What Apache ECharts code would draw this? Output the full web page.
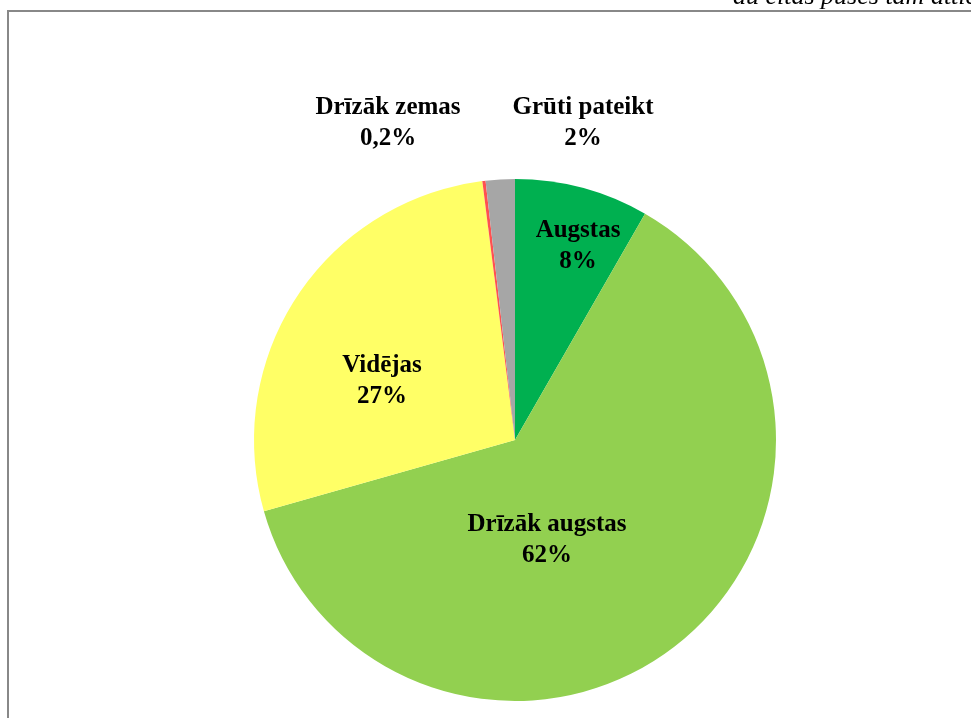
<!DOCTYPE html>
<html>
<head>
<meta charset="utf-8">
<script src="https://cdn.jsdelivr.net/npm/echarts@6/dist/echarts.min.js"></script>
<style>html,body{margin:0;padding:0;background:#fff;}#c{width:971px;height:718px;}</style>
</head>
<body>
<div id="c"></div>
<script>
const categories = ['Augstas', 'Drīzāk augstas', 'Vidējas', 'Drīzāk zemas', 'Grūti pateikt'];
const values = [8.3, 62.3, 27.4, 0.2, 1.8];
const percentLabels = ['8%', '62%', '27%', '0,2%', '2%'];
const colors = ['#00B050', '#92D050', '#FFFF66', '#FF5050', '#A6A6A6'];
const labelX = [578, 547, 382, 388, 583];
const labelY = [246, 540, 381, 123, 123];

const chart = echarts.init(document.getElementById('c'), null, {renderer: 'canvas'});
chart.setOption({
  animation: false,
  backgroundColor: '#fff',
  graphic: [
    {type: 'rect', shape: {x: 8, y: 11, width: 1000, height: 800}, style: {fill: 'none', stroke: '#888', lineWidth: 2}},
    {type: 'text', x: 733, y: 10, style: {text: 'au citas puses tam attiecībās', font: 'italic 26px "Liberation Serif"', fill: '#000', verticalAlign: 'bottom'}}
  ],
  series: [{
    type: 'pie',
    center: [515, 440],
    radius: [0, 261],
    startAngle: 90,
    clockwise: true,
    silent: true,
    data: categories.map((n, i) => ({name: n, value: values[i], itemStyle: {color: colors[i]}})),
    itemStyle: {borderWidth: 0},
    label: {
      show: true,
      position: 'inside',
      formatter: p => p.name + '\n' + percentLabels[p.dataIndex],
      fontFamily: '"Liberation Serif", "Times New Roman", serif',
      fontWeight: 'bold',
      fontSize: 25,
      lineHeight: 31,
      color: '#000',
      align: 'center'
    },
    labelLine: {show: false},
    labelLayout: p => ({x: labelX[p.dataIndex], y: labelY[p.dataIndex], align: 'center', verticalAlign: 'middle', hideOverlap: false})
  }]
});
</script>
</body>
</html>
